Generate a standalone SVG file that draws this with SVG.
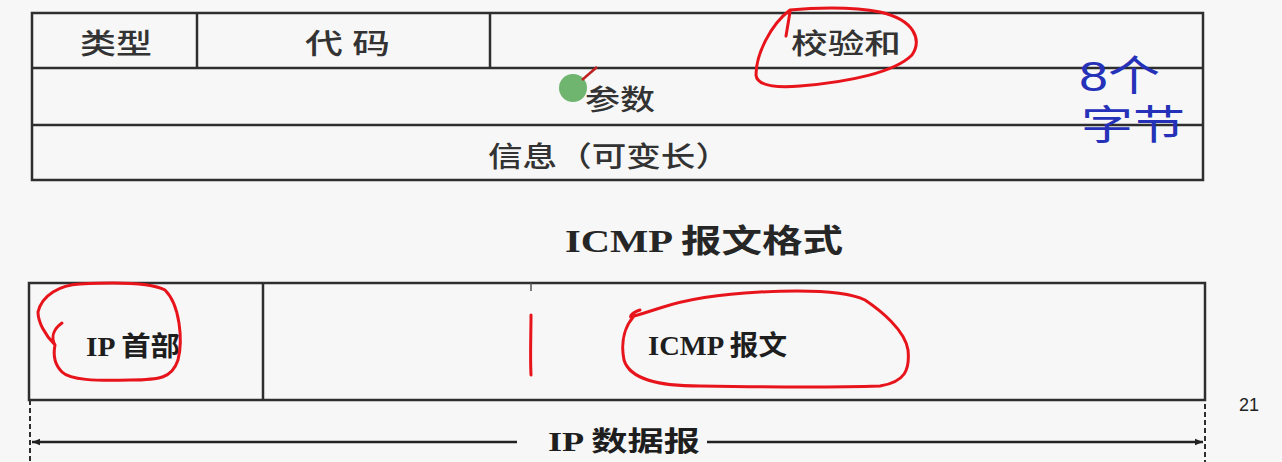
<svg xmlns="http://www.w3.org/2000/svg" width="1282" height="462" viewBox="0 0 1282 462">
<defs>
<style>
.bg{fill:#f7f7f7}
.box{fill:none;stroke:#2e2e2e;stroke-width:2.5}
.ln{stroke:#2e2e2e;stroke-width:2.5;fill:none}
.t{font-family:"Liberation Serif","Noto Sans CJK SC",serif;fill:#333;font-weight:500;dominant-baseline:central}
.tb{font-family:"Liberation Serif","Noto Sans CJK SC",serif;fill:#1e1e1e;font-weight:bold;dominant-baseline:central}
.title{font-family:"Liberation Serif","Noto Sans CJK SC",serif;fill:#262626;font-weight:bold;dominant-baseline:central}
.red{fill:none;stroke:#e8141b;stroke-width:3;stroke-linecap:round;stroke-linejoin:round}
.blue{font-family:"Liberation Sans","Noto Sans CJK SC",sans-serif;fill:#2431b8;dominant-baseline:central}
.dash{stroke:#2e2e2e;stroke-width:2;stroke-dasharray:5 3}
</style>
<marker id="ah" viewBox="0 0 10 10" refX="10" refY="5" markerWidth="16" markerHeight="8" markerUnits="userSpaceOnUse" orient="auto-start-reverse">
<path d="M0,1 L10,5 L0,9 Z" fill="#222"/>
</marker>
</defs>
<rect class="bg" x="0" y="0" width="1282" height="462"/>

<g id="icmp-table">
<rect class="box" x="32" y="13" width="1171" height="167"/>
<line class="ln" x1="32" y1="68" x2="1203" y2="68"/>
<line class="ln" x1="32" y1="125" x2="1203" y2="125"/>
<line class="ln" x1="197" y1="13" x2="197" y2="68"/>
<line class="ln" x1="490" y1="13" x2="490" y2="68"/>
</g>
<g id="type"><text class="t" x="80" y="44" font-size="28" textLength="72" lengthAdjust="spacingAndGlyphs">类型</text></g>
<g id="code"><text class="t" x="305" y="44" font-size="28" textLength="85" lengthAdjust="spacingAndGlyphs">代 码</text></g>
<g id="checksum"><text class="t" x="791" y="44" font-size="28" textLength="110" lengthAdjust="spacingAndGlyphs">校验和</text></g>
<g id="params">
<circle cx="573" cy="88" r="14" fill="#6fb46f"/>
<line x1="582" y1="80" x2="597" y2="67" stroke="#c02020" stroke-width="2.5"/>
<text class="t" x="585" y="100" font-size="28" textLength="70" lengthAdjust="spacingAndGlyphs">参数</text>
</g>
<g id="info"><text class="t" x="488" y="157" font-size="28" textLength="242" lengthAdjust="spacingAndGlyphs">信息（可变长）</text></g>
<g id="bytes-note">
<text class="blue" x="1079" y="76" font-size="42" textLength="81" lengthAdjust="spacingAndGlyphs">8个</text>
<text class="blue" x="1081" y="125" font-size="40" textLength="104" lengthAdjust="spacingAndGlyphs">字节</text>
</g>
<g id="title"><text class="title" x="565" y="241" font-size="32" textLength="278" lengthAdjust="spacingAndGlyphs">ICMP 报文格式</text></g>

<g id="ip-datagram">
<rect class="box" x="29" y="283" width="1176" height="117"/>
<line class="ln" x1="263" y1="283" x2="263" y2="400"/>
<line x1="531" y1="283" x2="531" y2="291" stroke="#555" stroke-width="1.5"/>
</g>
<g id="ip-header"><text class="tb" x="86" y="347" font-size="27" textLength="94" lengthAdjust="spacingAndGlyphs">IP 首部</text></g>
<g id="icmp-msg"><text class="tb" x="648" y="346" font-size="27" textLength="139" lengthAdjust="spacingAndGlyphs">ICMP 报文</text></g>

<g id="connectors">
<line class="dash" x1="30" y1="400" x2="30" y2="462"/>
<line class="dash" x1="1205" y1="380" x2="1205" y2="462"/>
<line x1="517" y1="442" x2="32" y2="442" stroke="#222" stroke-width="2.5" marker-end="url(#ah)"/>
<line x1="707" y1="442" x2="1203" y2="442" stroke="#222" stroke-width="2.5" marker-end="url(#ah)"/>
</g>
<g id="ip-datagram-label"><text class="tb" x="548" y="442" font-size="27" textLength="152" lengthAdjust="spacingAndGlyphs">IP 数据报</text></g>

<g id="annotations">
<path class="red" d="M790,12 L786,36 M790,10 C770,25 756,55 756,75 C757,86 775,88 800,86 C850,82 895,72 912,55 C922,40 915,20 880,12 C850,6 810,8 790,10"/>
<path class="red" d="M62,323 C55,328 50,336 55,345 M55,345 C45,335 38,322 38,312 C42,295 60,285 80,284 C115,282 150,282 165,290 C180,305 183,340 178,360 C172,378 160,380 130,380 C95,381 70,380 62,372 C54,364 53,355 55,345"/>
<path class="red" d="M531,315 C531,335 530,355 531,375"/>
<path class="red" d="M640,310 C630,313 628,320 634,316 M634,316 C626,325 620,340 624,360 C630,380 660,386 700,386 C760,387 820,388 880,386 C905,382 910,370 908,350 C905,330 880,310 865,300 C845,290 800,290 760,292 C720,294 690,298 660,308 C650,311 642,314 634,316"/>
</g>
<g id="page-number"><text x="1239" y="405" font-family="Liberation Sans, sans-serif" font-size="18" fill="#222" dominant-baseline="central">21</text></g>
</svg>
